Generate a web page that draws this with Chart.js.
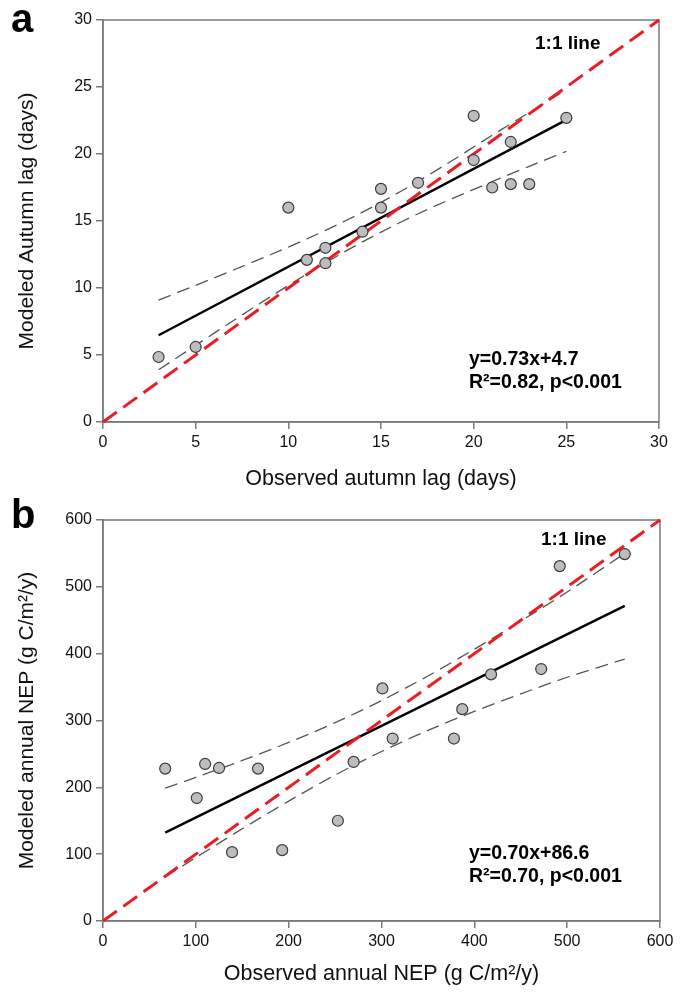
<!DOCTYPE html>
<html><head><meta charset="utf-8">
<script src="https://cdn.jsdelivr.net/npm/chart.js@4.4.0/dist/chart.umd.min.js"></script>
<style>
body{margin:0;background:#fff;width:687px;height:993px;position:relative;overflow:hidden}
canvas{position:absolute;left:0}
</style></head><body>
<canvas id="ca" width="687" height="496" style="top:0"></canvas>
<canvas id="cb" width="687" height="497" style="top:496px"></canvas>
<script>
// ---------- Panel a: autumn lag ----------
const obsLag = [3, 5, 10, 11, 12, 12, 14, 15, 15, 17, 20, 20, 21, 22, 22, 23, 25];
const modLag = [4.85, 5.6, 16.0, 12.1, 13.0, 11.85, 14.2, 17.4, 16.0, 17.85, 22.85, 19.55, 17.5, 20.9, 17.75, 17.75, 22.7];
const fitLagX = [3, 25];
const fitLagY = [6.47, 22.55];
const bandLagX = [3, 5, 7, 9, 11, 13, 15, 17, 19, 21, 23, 25];
const bandLagUp = [9.10, 10.20, 11.32, 12.46, 13.66, 14.96, 16.39, 17.96, 19.65, 21.40, 23.10, 24.80];
const bandLagLo = [3.90, 5.72, 7.54, 9.32, 11.04, 12.68, 14.17, 15.54, 16.77, 17.94, 19.08, 20.20];
const oneLagX = [0, 30];
const ticksLag = [0, 5, 10, 15, 20, 25, 30];

// ---------- Panel b: annual NEP ----------
const obsNep = [67, 101, 110, 125, 139, 167, 193, 253, 270, 301, 312, 378, 387, 418, 472, 492, 562];
const modNep = [228, 184, 235, 229, 103, 228, 106, 150, 238, 348, 273, 273, 317, 369, 377, 531, 549];
const fitNepX = [67, 562];
const fitNepY = [132.3, 471.5];
const bandNepX = [67, 100, 150, 200, 250, 300, 350, 400, 450, 500, 562];
const bandNepUp = [198.7, 214.9, 240.2, 267.2, 296.7, 329.8, 366.6, 406.6, 448.8, 492.3, 550.0];
const bandNepLo = [65.9, 94.9, 138.0, 179.4, 218.3, 253.6, 285.2, 313.6, 339.8, 364.7, 392.0];
const oneNepX = [0, 600];
const ticksNep = [0, 100, 200, 300, 400, 500, 600];

const FONT = "'Liberation Sans', Arial, Helvetica, sans-serif";
const AX = '#7a7a7a';

function pts(xs, ys) { return xs.map((x, i) => ({x: x, y: ys[i]})); }

function makeChart(id, o) {
  const framePlugin = {
    id: 'frame',
    beforeDatasetsDraw(chart) {
      const a = chart.chartArea, c = chart.ctx;
      c.save(); c.strokeStyle = AX; c.lineWidth = 1.5;
      c.strokeRect(a.left, a.top, a.right - a.left, a.bottom - a.top);
      c.restore();
    },
    afterDraw(chart) {
      const c = chart.ctx;
      c.save(); c.fillStyle = '#000'; c.textBaseline = 'alphabetic';
      c.font = 'bold 40px ' + FONT;
      c.fillText(o.letter, 11, o.letterY);
      c.textBaseline = 'middle';
      c.font = 'bold 19px ' + FONT;
      c.fillText('1:1 line', o.oneX, o.oneY);
      c.font = 'bold 19.5px ' + FONT;
      c.fillText(o.eq, 469, o.eqY);
      c.fillText(o.r2, 469, o.eqY + 23);
      c.restore();
    }
  };
  const tickFn = arr => s => { s.ticks = arr.map(v => ({value: v})); };
  const axis = (arr, max, title, isX) => ({
    type: 'linear', min: 0, max: max,
    afterBuildTicks: tickFn(arr),
    grid: {drawOnChartArea: false, drawTicks: true, tickLength: 7, color: AX, lineWidth: 1.5},
    border: {color: AX, width: 1.5},
    ticks: {color: '#111', font: {family: FONT, size: 16}, padding: 4, maxRotation: 0, autoSkip: false},
    title: {display: true, text: title, color: '#111', font: {family: FONT, size: isX ? 21.5 : 21},
            padding: isX ? {top: 0, bottom: o.xTitlePad} : {top: 15, bottom: 0}},
    afterFit: isX ? (s => { s.height = o.xAxisH; }) : (s => { s.width = 103; })
  });
  return new Chart(document.getElementById(id), {
    type: 'scatter',
    data: {datasets: [
      {data: pts(o.ox, o.oy), pointRadius: 5.5, pointBackgroundColor: '#bdbdbd',
       pointBorderColor: '#3c3c3c', pointBorderWidth: 1.2, showLine: false},
      {data: pts(o.oneX1, o.oneX1), showLine: true, pointRadius: 0, borderColor: '#ea1c24',
       borderWidth: 3, borderDash: [17, 8], clip: 4},
      {data: pts(o.fx, o.fy), showLine: true, pointRadius: 0, borderColor: '#000', borderWidth: 2.4},
      {data: pts(o.bx, o.bu), showLine: true, pointRadius: 0, borderColor: '#555', borderWidth: 1.3,
       borderDash: [13, 7], tension: 0.3},
      {data: pts(o.bx, o.bl), showLine: true, pointRadius: 0, borderColor: '#555', borderWidth: 1.3,
       borderDash: [13, 7], tension: 0.3}
    ]},
    options: {
      responsive: false, animation: false, devicePixelRatio: 1,
      layout: {padding: {left: 0, right: o.padR, top: o.padT, bottom: 0}},
      plugins: {legend: {display: false}, tooltip: {enabled: false}},
      scales: {
        x: axis(o.ticks, o.max, o.xTitle, true),
        y: axis(o.ticks, o.max, o.yTitle, false)
      }
    },
    plugins: [framePlugin]
  });
}

makeChart('ca', {
  ox: obsLag, oy: modLag, fx: fitLagX, fy: fitLagY, bx: bandLagX, bu: bandLagUp, bl: bandLagLo,
  oneX1: oneLagX, ticks: ticksLag, max: 30,
  xTitle: 'Observed autumn lag (days)', yTitle: 'Modeled Autumn lag (days)',
  padR: 28, padT: 20, xAxisH: 74, xTitlePad: 4,
  letter: 'a', letterY: 32, oneX: 535, oneY: 44,
  eq: 'y=0.73x+4.7', r2: 'R\u00b2=0.82, p<0.001', eqY: 360
});
makeChart('cb', {
  ox: obsNep, oy: modNep, fx: fitNepX, fy: fitNepY, bx: bandNepX, bu: bandNepUp, bl: bandNepLo,
  oneX1: oneNepX, ticks: ticksNep, max: 600,
  xTitle: 'Observed annual NEP (g C/m\u00b2/y)', yTitle: 'Modeled annual NEP (g C/m\u00b2/y)',
  padR: 27, padT: 24, xAxisH: 72, xTitlePad: 6,
  letter: 'b', letterY: 32, oneX: 541, oneY: 44,
  eq: 'y=0.70x+86.6', r2: 'R\u00b2=0.70, p<0.001', eqY: 358
});
</script>
</body></html>
